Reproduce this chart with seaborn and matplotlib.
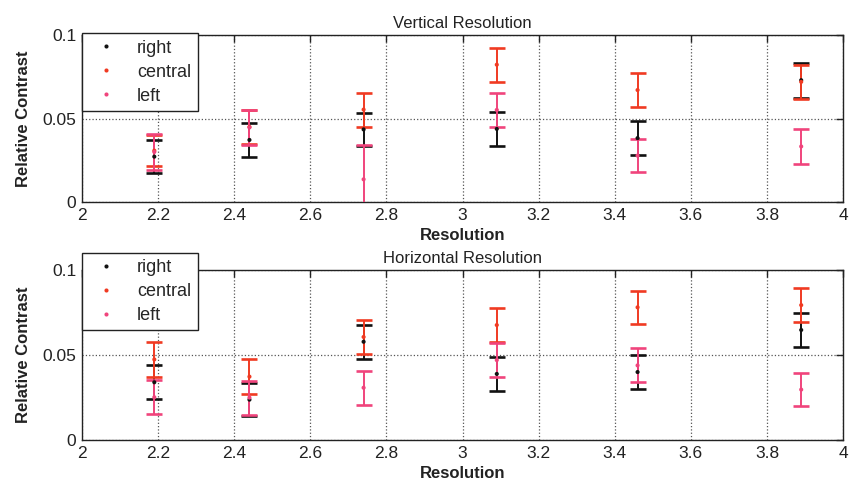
import numpy as np
import pandas as pd
import matplotlib
matplotlib.use('Agg')
import matplotlib.pyplot as plt
import seaborn as sns

# x positions of the measurement clusters
resolution = [2.19, 2.44, 2.74, 3.09, 3.46, 3.89]
series = ['right', 'central', 'left']

# vertical resolution: means and half error bars
vert_right = [0.0272, 0.0372, 0.0435, 0.0438, 0.0383, 0.0730]
vert_right_err = [0.0098, 0.0102, 0.0101, 0.0102, 0.0103, 0.0104]
vert_central = [0.0308, 0.0450, 0.0554, 0.0823, 0.0671, 0.0720]
vert_central_err = [0.0093, 0.0103, 0.0102, 0.0101, 0.0103, 0.0102]
vert_left = [0.0300, 0.0447, 0.0136, 0.0552, 0.0278, 0.0333]
vert_left_err = [0.0110, 0.0103, 0.0204, 0.0102, 0.0100, 0.0103]

# horizontal resolution
hor_right = [0.0340, 0.0238, 0.0578, 0.0389, 0.0400, 0.0647]
hor_right_err = [0.0100, 0.0097, 0.0100, 0.0101, 0.0100, 0.0100]
hor_central = [0.0474, 0.0373, 0.0606, 0.0676, 0.0780, 0.0793]
hor_central_err = [0.0101, 0.0101, 0.0098, 0.0102, 0.0096, 0.0099]
hor_left = [0.0252, 0.0250, 0.0308, 0.0470, 0.0439, 0.0297]
hor_left_err = [0.0101, 0.0100, 0.0100, 0.0100, 0.0100, 0.0099]

colors = {'right': '#111111', 'central': '#f03a22', 'left': '#f0447c'}

def make_df(r, re, c, ce, l, le):
    rows = []
    for name, m, e in [('right', r, re), ('central', c, ce), ('left', l, le)]:
        for x, y, s in zip(resolution, m, e):
            rows.append({'Resolution': x, 'Relative Contrast': y, 'err': s, 'side': name})
    return pd.DataFrame(rows)

vdf = make_df(vert_right, vert_right_err, vert_central, vert_central_err, vert_left, vert_left_err)
hdf = make_df(hor_right, hor_right_err, hor_central, hor_central_err, hor_left, hor_left_err)

sns.set_style('white')
plt.rcParams['font.family'] = ['Liberation Sans', 'DejaVu Sans']
plt.rcParams['font.size'] = 11

fig = plt.figure(figsize=(8.49, 4.88), dpi=100)
ax1 = fig.add_axes([0.0966, 0.586, 0.8964, 0.342])
ax2 = fig.add_axes([0.0966, 0.098, 0.8964, 0.349])

def draw(ax, df, title, leg_y):
    for name in series:
        d = df[df['side'] == name]
        ax.errorbar(d['Resolution'], d['Relative Contrast'], yerr=d['err'], fmt='none',
                    ecolor=colors[name], elinewidth=1.4, capsize=6, capthick=1.9, zorder=3)
    sns.scatterplot(data=df, x='Resolution', y='Relative Contrast', hue='side',
                    hue_order=series, palette=colors, marker='.', s=35, linewidth=0,
                    ax=ax, zorder=4)
    ax.set_xlim(2, 4)
    ax.set_ylim(0, 0.1)
    ax.set_xticks(np.arange(2, 4.01, 0.2))
    ax.set_xticklabels(['2', '2.2', '2.4', '2.6', '2.8', '3', '3.2', '3.4', '3.6', '3.8', '4'])
    ax.set_yticks([0, 0.05, 0.1])
    ax.set_yticklabels(['0', '0.05', '0.1'])
    ax.grid(True, color='#555555', linestyle=':', linewidth=0.9)
    ax.tick_params(direction='in', top=True, right=True, length=5, width=1, labelsize=12.5,
                   colors='#222222', pad=4)
    for sp in ax.spines.values():
        sp.set_color('#222222')
        sp.set_linewidth(1.0)
    ax.set_title(title, fontsize=12, pad=5, color='#222222')
    ax.set_xlabel('Resolution', fontsize=12, fontweight='bold', labelpad=4, color='#222222')
    ax.set_ylabel('Relative Contrast', fontsize=12, fontweight='bold', labelpad=8, color='#222222')
    leg = ax.legend(loc='upper left', bbox_to_anchor=(0, leg_y), borderaxespad=0,
                    fontsize=13, frameon=True, fancybox=False, framealpha=1,
                    edgecolor='#222222', labelspacing=0.38, handletextpad=0.7,
                    borderpad=0.35, markerscale=1.0)
    leg.get_frame().set_linewidth(1.0)
    leg.set_zorder(10)

draw(ax1, vdf, 'Vertical Resolution', 1.01)
draw(ax2, hdf, 'Horizontal Resolution', 1.10)

fig.savefig('out.png', dpi=100)
